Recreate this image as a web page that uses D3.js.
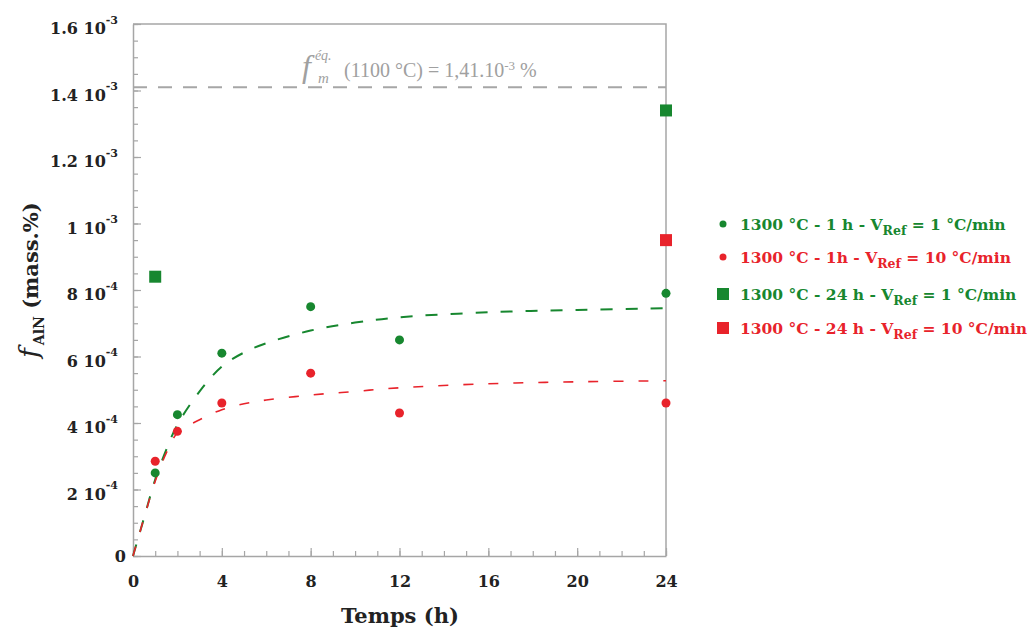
<!DOCTYPE html>
<html><head><meta charset="utf-8">
<script src="https://cdn.jsdelivr.net/npm/d3@7/dist/d3.min.js"></script>
<style>
body{margin:0;background:#fff;}
svg{display:block;}
</style></head>
<body>
<svg id="chart" width="1033" height="630"></svg>
<script>
// ---- data ----
const hours = [1, 2, 4, 8, 12, 24];
const green1h = [2.5e-4, 4.25e-4, 6.1e-4, 7.5e-4, 6.5e-4, 7.9e-4];
const red1h   = [2.85e-4, 3.75e-4, 4.6e-4, 5.5e-4, 4.3e-4, 4.6e-4];
const green24hX = [1, 24];
const green24h  = [8.4e-4, 1.34e-3];
const red24hX = [24];
const red24h  = [9.5e-4];
const fitT     = [0, 0.5, 1, 1.5, 2, 3, 4, 5, 6, 8, 10, 12, 16, 20, 24];
const fitGreen = [0, 1.15e-4, 2.3e-4, 3.2e-4, 3.95e-4, 4.95e-4, 5.7e-4, 6.12e-4, 6.4e-4, 6.78e-4, 7.02e-4, 7.18e-4, 7.33e-4, 7.4e-4, 7.45e-4];
const fitRed   = [0, 1.15e-4, 2.25e-4, 3.1e-4, 3.7e-4, 4.1e-4, 4.4e-4, 4.58e-4, 4.69e-4, 4.84e-4, 4.95e-4, 5.06e-4, 5.18e-4, 5.24e-4, 5.27e-4];
const equilibrium = 1.41e-3;
const xTicks = [0, 4, 8, 12, 16, 20, 24];
const yTicks = [0, 2e-4, 4e-4, 6e-4, 8e-4, 1e-3, 1.2e-3, 1.4e-3, 1.6e-3];
const yTickMantissa = ["0", "2", "4", "6", "8", "1", "1.2", "1.4", "1.6"];
const yTickExp = ["", "-4", "-4", "-4", "-4", "-3", "-3", "-3", "-3"];
const legendLabels = [
  ["1300 °C - 1 h - V", "Ref", " = 1 °C/min"],
  ["1300 °C - 1h - V", "Ref", " = 10 °C/min"],
  ["1300 °C - 24 h - V", "Ref", " = 1 °C/min"],
  ["1300 °C - 24 h - V", "Ref", " = 10 °C/min"]
];

const GREEN = "#17872f", RED = "#e8232b", GREY = "#a6a6a6";
const FONT = "'DejaVu Serif', serif";

const svg = d3.select("#chart");
const x = d3.scaleLinear().domain([0, 24]).range([133, 666]);
const y = d3.scaleLinear().domain([0, 1.6e-3]).range([556, 24]);

// frame (top and right)
svg.append("path")
  .attr("d", `M${x(0)},${y(1.6e-3)}H${x(24)}V${y(0)}`)
  .attr("fill", "none").attr("stroke", GREY).attr("stroke-width", 1.5);

// minor ticks
const yMinor = d3.range(0, 33).map(i => i * 0.5e-4);
svg.append("g").attr("transform", `translate(${x(0)},0)`)
  .call(d3.axisLeft(y).tickValues(yMinor).tickSize(-5).tickFormat(""))
  .call(g => g.select(".domain").remove())
  .call(g => g.selectAll("line").attr("stroke", GREY).attr("stroke-width", 1.2));
const xMinor = d3.range(0, 25);
svg.append("g").attr("transform", `translate(0,${y(0)})`)
  .call(d3.axisBottom(x).tickValues(xMinor).tickSize(-5).tickFormat(""))
  .call(g => g.select(".domain").remove())
  .call(g => g.selectAll("line").attr("stroke", GREY).attr("stroke-width", 1.2));

// y axis
const yAxis = svg.append("g").attr("transform", `translate(${x(0)},0)`)
  .call(d3.axisLeft(y).tickValues(yTicks).tickSizeInner(-8).tickSizeOuter(0).tickPadding(15).tickFormat(""));
yAxis.select(".domain").attr("stroke", GREY).attr("stroke-width", 1.5);
yAxis.selectAll("line").attr("stroke", GREY).attr("stroke-width", 1.2);
yAxis.selectAll(".tick text").each(function(d, i) {
  const t = d3.select(this)
    .attr("font-family", FONT).attr("font-weight", "bold").attr("font-size", 16)
    .attr("fill", "#222").attr("text-anchor", "end").attr("dy", "0.62em");
  if (yTickExp[i]) {
    t.append("tspan").text(yTickMantissa[i] + " 10");
    t.append("tspan").attr("font-size", 11).attr("dy", "-0.95em").text(yTickExp[i]);
  } else {
    t.attr("dy", "0.35em").attr("x", -7).text(yTickMantissa[i]);
  }
});

// x axis
const xAxis = svg.append("g").attr("transform", `translate(0,${y(0)})`)
  .call(d3.axisBottom(x).tickValues(xTicks).tickSizeInner(-8).tickSizeOuter(0).tickPadding(20).tickFormat(d3.format("d")));
xAxis.select(".domain").attr("stroke", GREY).attr("stroke-width", 1.5);
xAxis.selectAll("line").attr("stroke", GREY).attr("stroke-width", 1.2);
xAxis.selectAll("text").attr("font-family", FONT).attr("font-weight", "bold")
  .attr("font-size", 16).attr("fill", "#222");

// axis titles
svg.append("text").attr("x", 400).attr("y", 623).attr("text-anchor", "middle")
  .attr("font-family", FONT).attr("font-weight", "bold").attr("font-size", 21).attr("fill", "#222")
  .text("Temps (h)");
const yt = svg.append("text").attr("transform", "translate(38,280) rotate(-90)")
  .attr("text-anchor", "middle").attr("font-family", FONT).attr("fill", "#222");
yt.append("tspan").attr("font-style", "italic").attr("font-size", 26).text("f");
yt.append("tspan").attr("font-size", 14).attr("font-weight", "bold").attr("dy", 6).attr("dx", 3).text("AlN");
yt.append("tspan").attr("font-size", 21).attr("font-weight", "bold").attr("dy", -6).text(" (mass.%)");

// equilibrium line + annotation
svg.append("line").attr("x1", x(0)).attr("x2", x(24)).attr("y1", y(equilibrium)).attr("y2", y(equilibrium))
  .attr("stroke", GREY).attr("stroke-width", 2).attr("stroke-dasharray", "14,11");
const ann = svg.append("text").attr("x", 302).attr("y", y(equilibrium) - 10)
  .attr("font-family", "'Liberation Serif', serif").attr("fill", "#a0a0a0").attr("font-size", 20);
ann.append("tspan").attr("font-style", "italic").attr("font-size", 32).text("f");
ann.append("tspan").attr("font-style", "italic").attr("font-size", 14).attr("dy", -17).attr("dx", 4).text("éq.");
ann.append("tspan").attr("font-style", "italic").attr("font-size", 15).attr("x", 318).attr("dy", 23).text("m");
ann.append("tspan").attr("x", 344).attr("dy", -6).text("(1100 °C) = 1,41.10");
ann.append("tspan").attr("font-size", 13).attr("dy", -7).text("-3");
ann.append("tspan").attr("dy", 7).text(" %");

// fit curves
const line = d3.line().x((d, i) => x(fitT[i])).y(d => y(d)).curve(d3.curveCatmullRom.alpha(0.5));
svg.append("path").datum(fitGreen).attr("d", line).attr("fill", "none")
  .attr("stroke", GREEN).attr("stroke-width", 2).attr("stroke-dasharray", "12,13");
svg.append("path").datum(fitRed).attr("d", line).attr("fill", "none")
  .attr("stroke", RED).attr("stroke-width", 1.6).attr("stroke-dasharray", "10,15");

// points
svg.append("g").selectAll("circle").data(green1h).join("circle")
  .attr("cx", (d, i) => x(hours[i])).attr("cy", d => y(d)).attr("r", 4.5).attr("fill", GREEN);
svg.append("g").selectAll("circle").data(red1h).join("circle")
  .attr("cx", (d, i) => x(hours[i])).attr("cy", d => y(d)).attr("r", 4.5).attr("fill", RED);
const sq = 12;
svg.append("g").selectAll("rect").data(green24h).join("rect")
  .attr("x", (d, i) => x(green24hX[i]) - sq / 2).attr("y", d => y(d) - sq / 2)
  .attr("width", sq).attr("height", sq).attr("fill", GREEN);
svg.append("g").selectAll("rect").data(red24h).join("rect")
  .attr("x", (d, i) => x(red24hX[i]) - sq / 2).attr("y", d => y(d) - sq / 2)
  .attr("width", sq).attr("height", sq).attr("fill", RED);

// legend
const legColors = [GREEN, RED, GREEN, RED];
const legShapes = ["circle", "circle", "rect", "rect"];
const legY = [224, 257, 294, 328];
const leg = svg.append("g");
legendLabels.forEach((lab, i) => {
  const g = leg.append("g").attr("transform", `translate(0,${legY[i]})`);
  if (legShapes[i] === "circle") {
    g.append("circle").attr("cx", 723).attr("cy", 0).attr("r", 3.5).attr("fill", legColors[i]);
  } else {
    g.append("rect").attr("x", 717).attr("y", -6).attr("width", 12).attr("height", 12).attr("fill", legColors[i]);
  }
  const t = g.append("text").attr("x", 740).attr("y", 6).attr("font-family", FONT)
    .attr("font-weight", "bold").attr("font-size", 15.5).attr("fill", legColors[i]);
  t.append("tspan").text(lab[0]);
  t.append("tspan").attr("font-size", 12.5).attr("dy", 5).text(lab[1]);
  t.append("tspan").attr("dy", -5).text(lab[2]);
});
</script>
</body></html>
